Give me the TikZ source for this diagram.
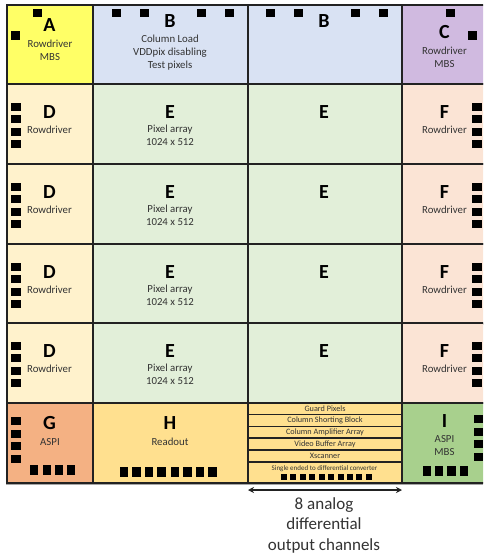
\documentclass[tikz,border=0pt]{standalone}
\usepackage{fontspec}
\setmainfont{Carlito}
\usetikzlibrary{arrows.meta}
\definecolor{cA}{HTML}{FFFF66}
\definecolor{cB}{HTML}{D9E2F3}
\definecolor{cC}{HTML}{D0BAE0}
\definecolor{cD}{HTML}{FFF2CC}
\definecolor{cE}{HTML}{E2EFD9}
\definecolor{cF}{HTML}{FBE4D5}
\definecolor{cG}{HTML}{F4B183}
\definecolor{cH}{HTML}{FFE08F}
\definecolor{cI}{HTML}{A8D08D}
\definecolor{ink}{HTML}{222222}
\definecolor{txt}{HTML}{333333}
\tikzset{
  cell/.style={draw=ink,line width=1.1pt,anchor=north west,inner sep=0pt,outer sep=0pt},
  big/.style={font=\fontsize{20}{20}\selectfont\bfseries,text=black,inner sep=0pt},
  lab/.style={font=\fontsize{10.8}{13}\selectfont,text=txt,align=center,inner sep=0pt},
  tiny/.style={font=\fontsize{8.2}{8}\selectfont,text=txt,inner sep=0pt},
  pad/.style={fill=black}
}
% \cellbox{name}{x}{y}{w}{h}{colour}
\newcommand{\cellbox}[6]{\node[cell,fill=#6,minimum width=#4pt,minimum height=#5pt] (#1) at (#2,#3) {};}
% \padbox{x}{y}{w}{h}
\newcommand{\padbox}[4]{\fill[pad] (#1,#2) rectangle ++(#3,#4);}
\begin{document}
\begin{tikzpicture}[x=1pt,y=-1pt]
\clip (0,0) rectangle (483,557);
\useasboundingbox (0,0) rectangle (483,557);
\fill[white] (0,0) rectangle (483,557);
\draw[gray!70,line width=1pt] (6,4.2) -- (483,4.2);
\draw[gray!70,line width=1pt] (6,484.2) -- (483,484.2);
% top row
\cellbox{A}{7}{5}{86}{79}{cA}
\cellbox{B1}{93}{5}{155}{79}{cB}
\cellbox{B2}{248}{5}{154}{79}{cB}
\cellbox{C}{402}{5}{90}{79}{cC}
% rows of the pixel array
\foreach \r/\y in {1/84,2/164,3/244,4/323}{
  \cellbox{D\r}{7}{\y}{86}{80}{cD}
  \cellbox{E\r}{93}{\y}{155}{80}{cE}
  \cellbox{Ex\r}{248}{\y}{154}{80}{cE}
  \cellbox{F\r}{402}{\y}{90}{80}{cF}
  \node[big] at (49.5,\y+28) {D};
  \node[lab] at (49.5,\y+46) {Rowdriver};
  \node[big] at (170,\y+28) {E};
  \node[lab,anchor=north] at (170,\y+40.5) {Pixel array\\1024 x 512};
  \node[big] at (324,\y+28) {E};
  \node[big] at (444.5,\y+28) {F};
  \node[lab] at (444.5,\y+46) {Rowdriver};
  \foreach \p in {19,31,44,56}{
    \padbox{11}{\y+\p}{9.5}{8}
    \padbox{472}{\y+\p}{10}{8}
  }
}
% bottom row
\cellbox{G}{7}{403}{86}{80}{cG}
\cellbox{H}{93}{403}{155}{80}{cH}
\cellbox{I}{402}{403}{90}{80}{cI}
\foreach \n/\y/\h in {s1/403/11.5,s2/414.5/12,s3/426.5/11.5,s4/438/12,s5/450/12,s6/462/21}{
  \cellbox{\n}{248}{\y}{154}{\h}{cH}
}
% labels
\node[big] at (49.5,25.5) {A};
\node[lab] at (50,50.5) {Rowdriver\\MBS};
\node[big] at (170,21) {B};
\node[lab] at (170,53) {Column Load\\VDDpix disabling\\Test pixels};
\node[big] at (324,21) {B};
\node[big] at (444.5,32) {C};
\node[lab] at (444.5,57.5) {Rowdriver\\MBS};
\node[big] at (49.5,423.5) {G};
\node[lab] at (50,442) {ASPI};
\node[big] at (170,423.5) {H};
\node[lab] at (170,442) {Readout};
\node[big] at (444.5,421) {I};
\node[lab] at (444.5,446) {ASPI\\MBS};
\node[tiny] at (s1.center) {Guard Pixels};
\node[tiny] at (s2.center) {Column Shorting Block};
\node[tiny] at (s3.center) {Column Amplifier Array};
\node[tiny] at (s4.center) {Video Buffer Array};
\node[tiny] at (s5.center) {Xscanner};
\node[font=\fontsize{7}{7}\selectfont,text=txt,inner sep=0pt] at (324.5,469) {Single ended to differential converter};
% pads
\padbox{33}{8.5}{9}{8.5}
\padbox{11}{31}{8.5}{9}
\foreach \x in {112,140,197,225,266,294,351,379}{\padbox{\x}{8.5}{8.7}{8.5}}
\padbox{446}{8.5}{8.7}{8.5}
\padbox{468}{31}{9}{9}
\foreach \y in {417,430,442,454.5}{\padbox{11}{\y}{9.5}{8}}
\foreach \x in {30,43,55,67}{\padbox{\x}{465}{8}{10}}
\foreach \x in {120,132.4,144.7,157.3,171,183.3,196,208.3}{\padbox{\x}{467}{8.3}{10}}
\foreach \y in {415,427.7,440,452.5}{\padbox{474}{\y}{9}{8}}
\foreach \x in {423,435,447.3,460}{\padbox{\x}{466}{8.2}{10}}
\foreach \x in {281,290.4,299.8,309.3,318.7,328,337.5,347,356.3,365.5}{\padbox{\x}{474.3}{6}{5.5}}
% output arrow
\coordinate (outL) at (248,490);
\coordinate (outR) at (402,490);
\draw[ink,line width=1.2pt,{Stealth[length=6pt,width=6pt]}-{Stealth[length=6pt,width=6pt]}] (outL) -- (outR);
\node[font=\fontsize{17}{20.5}\selectfont,text=txt,align=center,inner sep=0pt,anchor=north] (outtxt) at (324,497) {8 analog\\differential\\output channels};
\end{tikzpicture}
\end{document}
